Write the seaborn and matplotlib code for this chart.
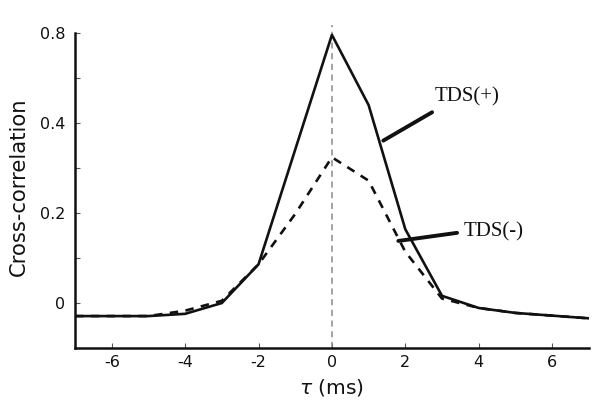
import numpy as np
import pandas as pd
import matplotlib
matplotlib.use("Agg")
import matplotlib.pyplot as plt
import seaborn as sns

# ---- data ----
tau = [-7, -6, -5, -4, -3, -2, -1, 0, 1, 2, 3, 4, 5, 6, 7]
tds_plus = [-0.029, -0.029, -0.029, -0.024, 0.0, 0.086, 0.341, 0.596, 0.44,
            0.164, 0.016, -0.011, -0.022, -0.028, -0.034]
tds_minus = [-0.029, -0.029, -0.029, -0.017, 0.005, 0.086, 0.198, 0.324, 0.272,
             0.114, 0.010, -0.011, -0.022, -0.028, -0.034]
ytick_pos = [0, 0.2, 0.4, 0.6]
ytick_labels = ["0", "0.2", "0.4", "0.8"]
xtick_pos = [-6, -4, -2, 0, 2, 4, 6]
xtick_labels = ["-6", "-4", "-2", "0", "2", "4", "6"]
series_names = ["TDS(+)", "TDS(-)"]

df = pd.DataFrame({
    "tau": tau * 2,
    "cc": tds_plus + tds_minus,
    "series": [series_names[0]] * len(tau) + [series_names[1]] * len(tau),
})

sns.set_style("ticks")
plt.rcParams["font.family"] = ["DejaVu Sans"]

fig = plt.figure(figsize=(6.07, 4.15), dpi=100)
ax = fig.add_axes([0.1236, 0.1614, 0.8464, 0.7784])

ax.axvline(0, color="#8a8a8a", lw=1.1, ls=(0, (4, 3)), zorder=1)

sns.lineplot(data=df[df.series == series_names[0]], x="tau", y="cc",
             color="#111111", lw=1.9, ax=ax, zorder=3)
sns.lineplot(data=df[df.series == series_names[1]], x="tau", y="cc",
             color="#111111", lw=1.9, ax=ax, zorder=2)
ax.lines[-1].set_dashes((3.2, 2.8))

ax.set_xlim(-7, 7)
ax.set_ylim(-0.1, 0.618)
ax.spines["left"].set_bounds(-0.1, 0.6)
sns.despine(ax=ax)
for s in ("left", "bottom"):
    ax.spines[s].set_linewidth(1.8)
    ax.spines[s].set_color("#111111")

ax.set_xticks(xtick_pos)
ax.set_xticklabels(xtick_labels)
ax.set_yticks(ytick_pos)
ax.set_yticklabels(ytick_labels)
ax.set_yticks([0.1, 0.3, 0.5], minor=True)
ax.tick_params(axis="both", which="both", direction="in", length=3.5,
               width=0.8, color="#555555", labelsize=11.5, labelcolor="#111111")
ax.tick_params(axis="x", pad=5)
ax.tick_params(axis="y", pad=7)

ax.set_xlabel(r"$\tau$ (ms)", fontsize=14.6, color="#111111", labelpad=5)
ax.set_ylabel("Cross-correlation", fontsize=15.2, color="#111111", labelpad=8)

# annotations with leader lines
ax.annotate("", xy=(1.40, 0.361), xytext=(2.73, 0.424),
            arrowprops=dict(arrowstyle="-", lw=2.8, color="#111111",
                            shrinkA=0, shrinkB=0))
ax.text(2.80, 0.458, series_names[0], family="Liberation Serif", fontsize=15,
        va="center", ha="left", color="#111111")
ax.annotate("", xy=(1.81, 0.138), xytext=(3.41, 0.156),
            arrowprops=dict(arrowstyle="-", lw=2.8, color="#111111",
                            shrinkA=0, shrinkB=0))
ax.text(3.60, 0.158, series_names[1], family="Liberation Serif", fontsize=15,
        va="center", ha="left", color="#111111")

fig.savefig("out.png", dpi=100)
